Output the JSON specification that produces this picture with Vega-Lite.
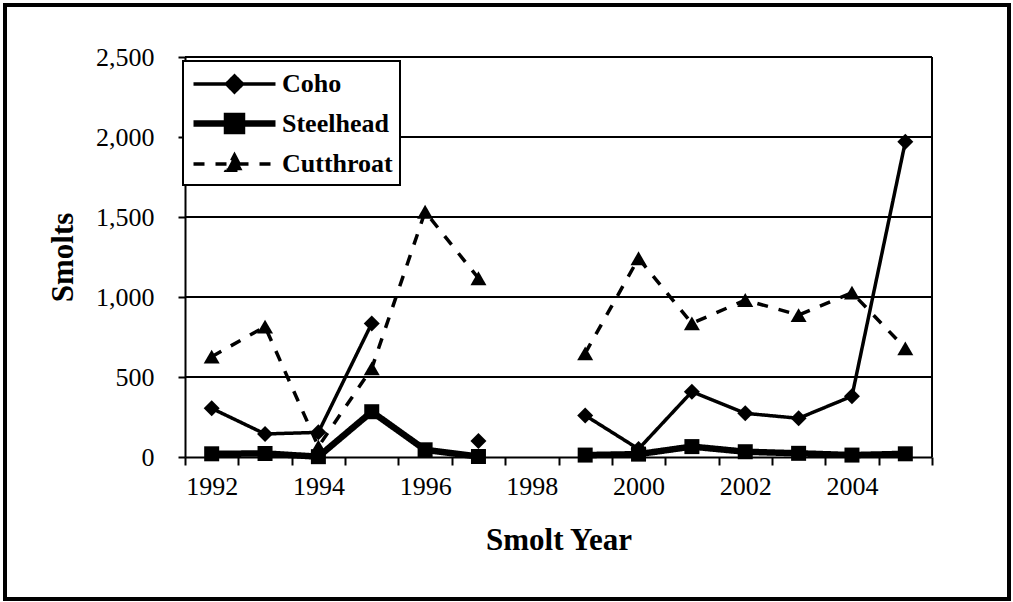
{
  "$schema": "https://vega.github.io/schema/vega-lite/v6.json",
  "width": 1004,
  "height": 594,
  "autosize": "none",
  "padding": {"left": 5, "top": 5, "right": 4, "bottom": 3},
  "background": "white",
  "config": {
    "view": {"stroke": "black", "strokeWidth": 4},
    "font": "Liberation Serif"
  },
  "datasets": {
    "smolts": [
      {"species": "Coho", "year": 1992, "smolts": 304, "period": "A"},
      {"species": "Coho", "year": 1993, "smolts": 144, "period": "A"},
      {"species": "Coho", "year": 1994, "smolts": 154, "period": "A"},
      {"species": "Coho", "year": 1995, "smolts": 835, "period": "A"},
      {"species": "Coho", "year": 1997, "smolts": 100, "period": "B"},
      {"species": "Coho", "year": 1999, "smolts": 260, "period": "C"},
      {"species": "Coho", "year": 2000, "smolts": 50, "period": "C"},
      {"species": "Coho", "year": 2001, "smolts": 408, "period": "C"},
      {"species": "Coho", "year": 2002, "smolts": 273, "period": "C"},
      {"species": "Coho", "year": 2003, "smolts": 242, "period": "C"},
      {"species": "Coho", "year": 2004, "smolts": 380, "period": "C"},
      {"species": "Coho", "year": 2005, "smolts": 1970, "period": "C"},
      {"species": "Steelhead", "year": 1992, "smolts": 20, "period": "A"},
      {"species": "Steelhead", "year": 1993, "smolts": 22, "period": "A"},
      {"species": "Steelhead", "year": 1994, "smolts": 2, "period": "A"},
      {"species": "Steelhead", "year": 1995, "smolts": 283, "period": "A"},
      {"species": "Steelhead", "year": 1996, "smolts": 45, "period": "A"},
      {"species": "Steelhead", "year": 1997, "smolts": 3, "period": "A"},
      {"species": "Steelhead", "year": 1999, "smolts": 12, "period": "C"},
      {"species": "Steelhead", "year": 2000, "smolts": 18, "period": "C"},
      {"species": "Steelhead", "year": 2001, "smolts": 65, "period": "C"},
      {"species": "Steelhead", "year": 2002, "smolts": 33, "period": "C"},
      {"species": "Steelhead", "year": 2003, "smolts": 23, "period": "C"},
      {"species": "Steelhead", "year": 2004, "smolts": 12, "period": "C"},
      {"species": "Steelhead", "year": 2005, "smolts": 20, "period": "C"},
      {"species": "Cutthroat", "year": 1992, "smolts": 627, "period": "A"},
      {"species": "Cutthroat", "year": 1993, "smolts": 815, "period": "A"},
      {"species": "Cutthroat", "year": 1994, "smolts": 65, "period": "A"},
      {"species": "Cutthroat", "year": 1995, "smolts": 554, "period": "A"},
      {"species": "Cutthroat", "year": 1996, "smolts": 1533, "period": "A"},
      {"species": "Cutthroat", "year": 1997, "smolts": 1117, "period": "A"},
      {"species": "Cutthroat", "year": 1999, "smolts": 648, "period": "C"},
      {"species": "Cutthroat", "year": 2000, "smolts": 1242, "period": "C"},
      {"species": "Cutthroat", "year": 2001, "smolts": 835, "period": "C"},
      {"species": "Cutthroat", "year": 2002, "smolts": 981, "period": "C"},
      {"species": "Cutthroat", "year": 2003, "smolts": 887, "period": "C"},
      {"species": "Cutthroat", "year": 2004, "smolts": 1027, "period": "C"},
      {"species": "Cutthroat", "year": 2005, "smolts": 679, "period": "C"}
    ],
    "gridlines": [
      {"smolts": 500}, {"smolts": 1000}, {"smolts": 1500}, {"smolts": 2000}, {"smolts": 2500}
    ]
  },
  "layer": [
    {
      "data": {"name": "gridlines"},
      "mark": {"type": "rule", "color": "black", "strokeWidth": 2},
      "encoding": {
        "x": {
          "datum": 1991.5,
          "type": "quantitative",
          "scale": {"domain": [1991.5, 2005.5], "range": [180, 927], "nice": false, "zero": false},
          "axis": {
            "title": "Smolt Year",
            "values": [1991.5, 1992.5, 1993.5, 1994.5, 1995.5, 1996.5, 1997.5, 1998.5, 1999.5, 2000.5, 2001.5, 2002.5, 2003.5, 2004.5, 2005.5],
            "labelExpr": "((datum.value + 0.5) % 2 == 0 && datum.value < 2004) ? ('' + (datum.value + 0.5)) : ''",
            "labelOffset": 26.7,
            "offset": -142,
            "grid": false,
            "domainColor": "black",
            "domainWidth": 2,
            "tickColor": "black",
            "tickWidth": 2,
            "tickSize": 8,
            "labelFont": "Liberation Serif",
            "labelFontSize": 26,
            "labelColor": "black",
            "labelPadding": 8,
            "labelOverlap": false,
            "labelFlush": false,
            "titleFont": "Liberation Serif",
            "titleFontSize": 31,
            "titleFontWeight": "bold",
            "titleColor": "black",
            "titlePadding": 26
          }
        },
        "x2": {"datum": 2005.5},
        "y": {
          "field": "smolts",
          "type": "quantitative",
          "scale": {"domain": [0, 2500], "range": [452, 52], "nice": false, "zero": false},
          "axis": {
            "title": "Smolts",
            "values": [0, 500, 1000, 1500, 2000, 2500],
            "format": ",d",
            "offset": -180,
            "grid": false,
            "domainColor": "black",
            "domainWidth": 2,
            "tickColor": "black",
            "tickWidth": 2,
            "tickSize": 7,
            "labelFont": "Liberation Serif",
            "labelFontSize": 26,
            "labelColor": "black",
            "labelPadding": 24,
            "titleFont": "Liberation Serif",
            "titleFontSize": 31,
            "titleFontWeight": "bold",
            "titleColor": "black",
            "titlePadding": 16
          }
        }
      }
    },
    {
      "data": {"name": "gridlines"},
      "mark": {"type": "rule", "color": "black", "strokeWidth": 2},
      "encoding": {
        "x": {"datum": 2005.5, "type": "quantitative"},
        "y": {"datum": 0, "type": "quantitative"},
        "y2": {"datum": 2500}
      }
    },
    {
      "data": {"name": "smolts"},
      "mark": {"type": "line", "color": "black", "strokeJoin": "miter"},
      "encoding": {
        "x": {"field": "year", "type": "quantitative"},
        "y": {"field": "smolts", "type": "quantitative"},
        "detail": {"field": "period"},
        "strokeWidth": {
          "field": "species",
          "type": "nominal",
          "scale": {"type": "ordinal", "domain": ["Coho", "Steelhead", "Cutthroat"], "range": [3.5, 6.5, 3.5]},
          "legend": null
        },
        "strokeDash": {
          "field": "species",
          "type": "nominal",
          "scale": {"domain": ["Coho", "Steelhead", "Cutthroat"], "range": [[1, 0], [1, 0], [11, 11]]},
          "legend": {
            "orient": "none",
            "legendX": 178,
            "legendY": 56,
            "title": null,
            "strokeColor": "black",
            "fillColor": "white",
            "padding": 7,
            "symbolType": "M-1,0L4.857,0",
            "symbolSize": 784,
            "symbolStrokeColor": "black",
            "symbolFillColor": "black",
            "labelFont": "Liberation Serif",
            "labelFontSize": 26,
            "labelFontWeight": "bold",
            "labelColor": "black",
            "labelOffset": 57,
            "rowPadding": 3,
            "encode": {
              "legend": {"update": {"strokeWidth": {"value": 2}}},
              "symbols": {
                "update": {
                  "shape": {"signal": "datum.value === 'Coho' ? 'M-1,0L4.857,0M1.357,0L1.929,-0.571L2.5,0L1.929,0.571Z' : (datum.value === 'Steelhead' ? 'M-1,0L4.857,0M1.393,-0.536L2.464,-0.536L2.464,0.536L1.393,0.536Z' : 'M-1,0L4.857,0M1.929,-0.62L2.5,0.45L1.357,0.45Z')"},
                  "strokeWidth": {"signal": "datum.value === 'Steelhead' ? 6.5 : 3.5"},
                  "fill": {"value": "black"},
                  "stroke": {"value": "black"},
                  "size": {"value": 784}
                }
              }
            }
          }
        }
      }
    },
    {
      "data": {"name": "smolts"},
      "transform": [{"filter": "datum.species === 'Coho'"}],
      "mark": {"type": "point", "shape": "diamond", "size": 256, "filled": true, "color": "black", "opacity": 1},
      "encoding": {
        "x": {"field": "year", "type": "quantitative"},
        "y": {"field": "smolts", "type": "quantitative"}
      }
    },
    {
      "data": {"name": "smolts"},
      "transform": [{"filter": "datum.species === 'Steelhead'"}],
      "mark": {"type": "point", "shape": "square", "size": 225, "filled": true, "color": "black", "opacity": 1},
      "encoding": {
        "x": {"field": "year", "type": "quantitative"},
        "y": {"field": "smolts", "type": "quantitative"}
      }
    },
    {
      "data": {"name": "smolts"},
      "transform": [{"filter": "datum.species === 'Cutthroat'"}],
      "mark": {"type": "point", "shape": "triangle-up", "size": 256, "filled": true, "color": "black", "opacity": 1},
      "encoding": {
        "x": {"field": "year", "type": "quantitative"},
        "y": {"field": "smolts", "type": "quantitative"}
      }
    }
  ]
}
